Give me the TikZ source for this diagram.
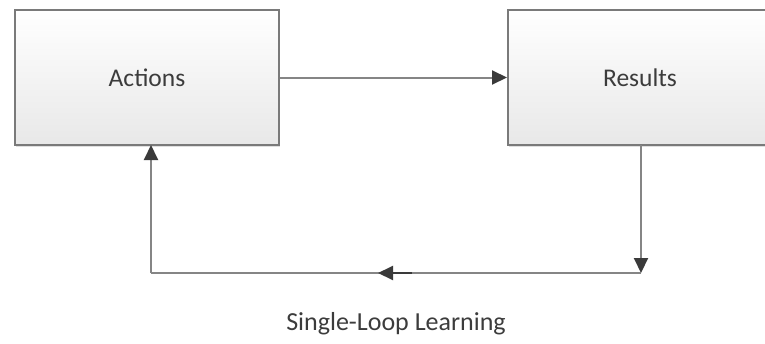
\documentclass[tikz,border=0pt]{standalone}
\usepackage{fontspec}
\setmainfont{Carlito}
\usetikzlibrary{arrows.meta,shadows}
\definecolor{boxline}{HTML}{7A7A7A}
\definecolor{conline}{HTML}{858585}
\definecolor{headcol}{HTML}{3A3A3A}
\definecolor{txt}{HTML}{3C3C3C}
\tikzset{
  x=1pt,y=-1pt,
  stepbox/.style={draw=boxline, line width=2pt, top color=white, bottom color=black!9,
    minimum width=264pt, minimum height=135pt, inner sep=0pt,
    text=txt, font=\fontsize{25.5}{30}\selectfont,
    drop shadow={shadow xshift=1pt, shadow yshift=-1.5pt, opacity=0.25}},
  conn/.style={draw=conline, line width=2pt,
    -{Triangle[length=15pt,width=14pt,fill=headcol,color=headcol]}},
  plain/.style={draw=conline, line width=2pt},
  lbl/.style={text=txt, font=\fontsize{26}{30}\selectfont}
}
\begin{document}
\begin{tikzpicture}
\useasboundingbox (0,0) rectangle (765,343);
\clip (0,0) rectangle (765,343);
\node[stepbox] (act) at (147,77.5) {Actions};
\node[stepbox] (res) at (640,77.5) {Results};
\coordinate (br) at (641,273);
\coordinate (bl) at (151,273);
\coordinate (ms) at (412,273);
\coordinate (me) at (378,273);
\coordinate (ab) at (151,145);
\coordinate (rb) at (641,145);
\draw[conn] (act.east) -- (res.west);
\draw[conn] (rb) -- (br);
\draw[plain] (br) -- (bl);
\draw[conn, draw=headcol] (ms) -- (me);
\draw[conn] (bl) -- (ab);
\node[lbl] (cap) at (396,324) {Single-Loop Learning};
\end{tikzpicture}
\end{document}
